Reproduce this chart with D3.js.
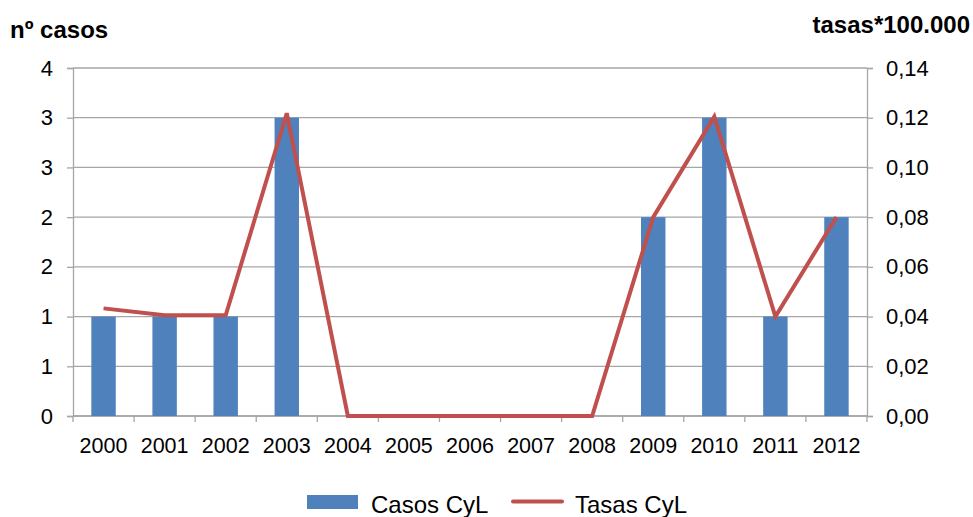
<!DOCTYPE html>
<html><head><meta charset="utf-8">
<script src="https://cdn.jsdelivr.net/npm/d3@7"></script>
<style>body{margin:0;background:#fff}svg{display:block}text{font-family:"Liberation Sans",Arial,sans-serif}</style>
</head><body><svg id="c" width="973" height="517"></svg>
<script>
const years = ["2000","2001","2002","2003","2004","2005","2006","2007","2008","2009","2010","2011","2012"];
const casos = [1,1,1,3,0,0,0,0,0,2,3,1,2];
const tasas = [0.0433,0.0405,0.0405,0.1218,0,0,0,0,0,0.08,0.1204,0.04,0.08];
const leftTickValues = [0,0.5,1,1.5,2,2.5,3,3.5];
const leftTickLabels = ["0","1","1","2","2","3","3","4"];
const rightTickValues = [0,0.02,0.04,0.06,0.08,0.10,0.12,0.14];
const rightTickLabels = ["0,00","0,02","0,04","0,06","0,08","0,10","0,12","0,14"];

const svg = d3.select("#c");
const L=73, R=867, T=68, B=416;
const x = d3.scaleBand().domain(years).range([L,R]).paddingInner(0.6).paddingOuter(0.3);
const xc = d3.scaleBand().domain(years).range([L,R]);
const yL = d3.scaleLinear().domain([0,3.5]).range([B,T]);
const yR = d3.scaleLinear().domain([0,0.14]).range([B,T]);
const grid="#a6a6a6";

// gridlines
svg.append("g").selectAll("line").data(leftTickValues).join("line")
  .attr("x1",L).attr("x2",R).attr("y1",d=>yL(d)).attr("y2",d=>yL(d))
  .attr("stroke",grid).attr("stroke-width",1.3);

// left axis
const ga = svg.append("g").attr("transform",`translate(${L},0)`)
  .call(d3.axisLeft(yL).tickValues(leftTickValues).tickSize(6).tickPadding(14)
    .tickFormat((d,i)=>leftTickLabels[i]));
// right axis
const gb = svg.append("g").attr("transform",`translate(${R},0)`)
  .call(d3.axisRight(yR).tickValues(rightTickValues).tickSize(6).tickPadding(13)
    .tickFormat((d,i)=>rightTickLabels[i]));
// bottom axis (ticks at category boundaries)
const gx = svg.append("g").attr("transform",`translate(0,${B})`)
  .call(d3.axisBottom(xc).tickSize(0));
gx.append("g").selectAll("line").data(years.concat(["end"])).join("line")
  .attr("x1",(d,i)=>L+i*xc.bandwidth()).attr("x2",(d,i)=>L+i*xc.bandwidth())
  .attr("y1",0).attr("y2",6).attr("stroke",grid).attr("stroke-width",1.3);

[ga,gb,gx].forEach(g=>{
  g.select(".domain").attr("stroke",grid).attr("stroke-width",1.3);
  g.selectAll(".tick line").attr("stroke",grid).attr("stroke-width",1.3);
  g.selectAll(".tick text").attr("font-size",22).attr("fill","#000").attr("font-family","Liberation Sans, Arial, sans-serif");
});
gx.selectAll(".tick text").attr("font-size",21.5).attr("y",37).attr("dy",0);
gx.select(".domain").attr("d",`M${L},0H${R}`);

// bars
svg.append("g").selectAll("rect").data(years).join("rect")
  .attr("x",d=>x(d)).attr("width",x.bandwidth())
  .attr("y",(d,i)=>yL(casos[i])).attr("height",(d,i)=>B-yL(casos[i]))
  .attr("fill","#4f81bd");

// line
const line = d3.line().x((d,i)=>xc(years[i])+xc.bandwidth()/2).y(d=>yR(d));
svg.append("path").datum(tasas).attr("d",line).attr("fill","none")
  .attr("stroke","#c0504d").attr("stroke-width",4).attr("stroke-linejoin","miter");

// axis titles
svg.append("text").attr("x",10).attr("y",38).attr("font-size",24).attr("font-weight","bold").text("nº casos");
svg.append("text").attr("x",970).attr("y",33).attr("font-size",24).attr("font-weight","bold").attr("text-anchor","end").text("tasas*100.000");

// legend
svg.append("rect").attr("x",307).attr("y",495).attr("width",51).attr("height",14).attr("fill","#4f81bd");
svg.append("text").attr("x",371).attr("y",513).attr("font-size",24).text("Casos CyL");
svg.append("line").attr("x1",513).attr("x2",562).attr("y1",501.5).attr("y2",501.5)
  .attr("stroke","#c0504d").attr("stroke-width",4).attr("stroke-linecap","round");
svg.append("text").attr("x",575).attr("y",513).attr("font-size",24).text("Tasas CyL");
</script></body></html>
